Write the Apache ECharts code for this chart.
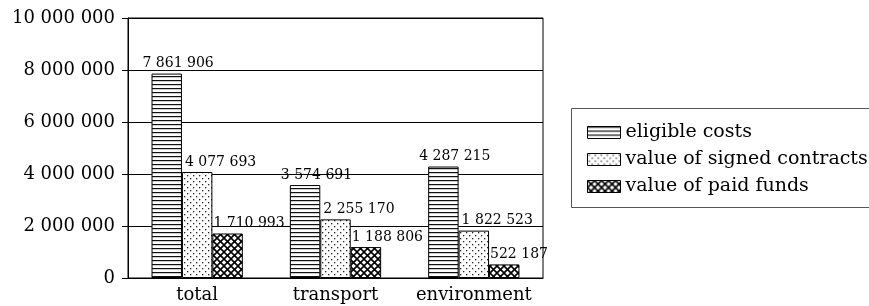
<!DOCTYPE html>
<html>
<head>
<meta charset="utf-8">
<script src="https://cdn.jsdelivr.net/npm/echarts@6/dist/echarts.min.js"></script>
<style>
  html, body { margin: 0; padding: 0; background: #fff; }
  #chart { width: 869px; height: 306px; }
</style>
</head>
<body>
<div id="chart"></div>
<script>
const categories = ['total', 'transport', 'environment'];
const seriesNames = ['eligible costs', 'value of signed contracts', 'value of paid funds'];
const eligibleCosts = [7861906, 3574691, 4287215];
const signedContracts = [4077693, 2255170, 1822523];
const paidFunds = [1710993, 1188806, 522187];
const yTicks = [0, 2000000, 4000000, 6000000, 8000000, 10000000];

const FONT = '"DejaVu Serif", "Liberation Serif", serif';

const fmt = v => String(v).replace(/\B(?=(\d{3})+(?!\d))/g, ' ');

// fill patterns
function stripes() {
  const c = document.createElement('canvas');
  c.width = 4; c.height = 4;
  const g = c.getContext('2d');
  g.fillStyle = '#fff'; g.fillRect(0, 0, 4, 4);
  g.fillStyle = '#111'; g.fillRect(0, 0, 4, 1);
  g.fillStyle = '#999'; g.fillRect(0, 1, 4, 0.5);
  return c;
}
function dots() {
  const c = document.createElement('canvas');
  c.width = 6; c.height = 6;
  const g = c.getContext('2d');
  g.fillStyle = '#fff'; g.fillRect(0, 0, 6, 6);
  g.fillStyle = '#222';
  g.fillRect(1, 1, 1.3, 1.3);
  g.fillRect(4, 4, 1.3, 1.3);
  return c;
}
function hatch() {
  const s = 7;
  const c = document.createElement('canvas');
  c.width = s; c.height = s;
  const g = c.getContext('2d');
  g.fillStyle = '#fff'; g.fillRect(0, 0, s, s);
  g.strokeStyle = '#000'; g.lineWidth = 1.6;
  for (const k of [-s, 0, s]) {
    g.beginPath(); g.moveTo(k, 0); g.lineTo(k + s, s); g.stroke();
    g.beginPath(); g.moveTo(k + s, 0); g.lineTo(k, s); g.stroke();
  }
  return c;
}
const patterns = [stripes(), dots(), hatch()];
const labelDx = [-9, 3, 1];
const values = [eligibleCosts, signedContracts, paidFunds];

const chart = echarts.init(document.getElementById('chart'));
chart.setOption({
  animation: false,
  grid: {
    left: 128, top: 18, right: 326, bottom: 28,
    show: true, borderColor: '#000', borderWidth: 1, backgroundColor: 'transparent'
  },
  graphic: [{
    type: 'rect', left: 571, top: 108,
    shape: { width: 320, height: 99 },
    style: { fill: '#fff', stroke: '#555', lineWidth: 1 },
    z: 0
  }],
  legend: {
    orient: 'vertical', left: 582, top: 118,
    itemWidth: 33, itemHeight: 12, itemGap: 8,
    icon: 'rect',
    textStyle: { fontFamily: FONT, fontSize: 19, color: '#000' },
    itemStyle: { borderColor: '#000', borderWidth: 1 },
    data: seriesNames
  },
  xAxis: {
    type: 'category',
    data: categories,
    axisLine: { lineStyle: { color: '#000', width: 1 } },
    axisTick: { length: 5, lineStyle: { color: '#000' } },
    axisLabel: { interval: 0, fontFamily: FONT, fontSize: 18, color: '#000', margin: 8 }
  },
  yAxis: {
    type: 'value',
    min: yTicks[0], max: yTicks[yTicks.length - 1], interval: 2000000,
    axisLine: { show: true, lineStyle: { color: '#000', width: 1 } },
    axisTick: { show: true, length: 6, lineStyle: { color: '#000' } },
    splitLine: { lineStyle: { color: '#000', width: 1 } },
    axisLabel: { fontFamily: FONT, fontSize: 18, color: '#000', margin: 13, formatter: fmt }
  },
  series: seriesNames.map((name, i) => ({
    name,
    type: 'bar',
    data: values[i],
    barGap: '0%',
    barCategoryGap: '34%',
    itemStyle: {
      color: { image: patterns[i], repeat: 'repeat' },
      borderColor: '#000', borderWidth: 1
    },
    label: {
      show: true,
      position: [labelDx[i], -3],
      align: 'left', verticalAlign: 'bottom',
      fontFamily: FONT, fontSize: 14, color: '#000',
      formatter: p => fmt(p.value)
    }
  }))
});
</script>
</body>
</html>
